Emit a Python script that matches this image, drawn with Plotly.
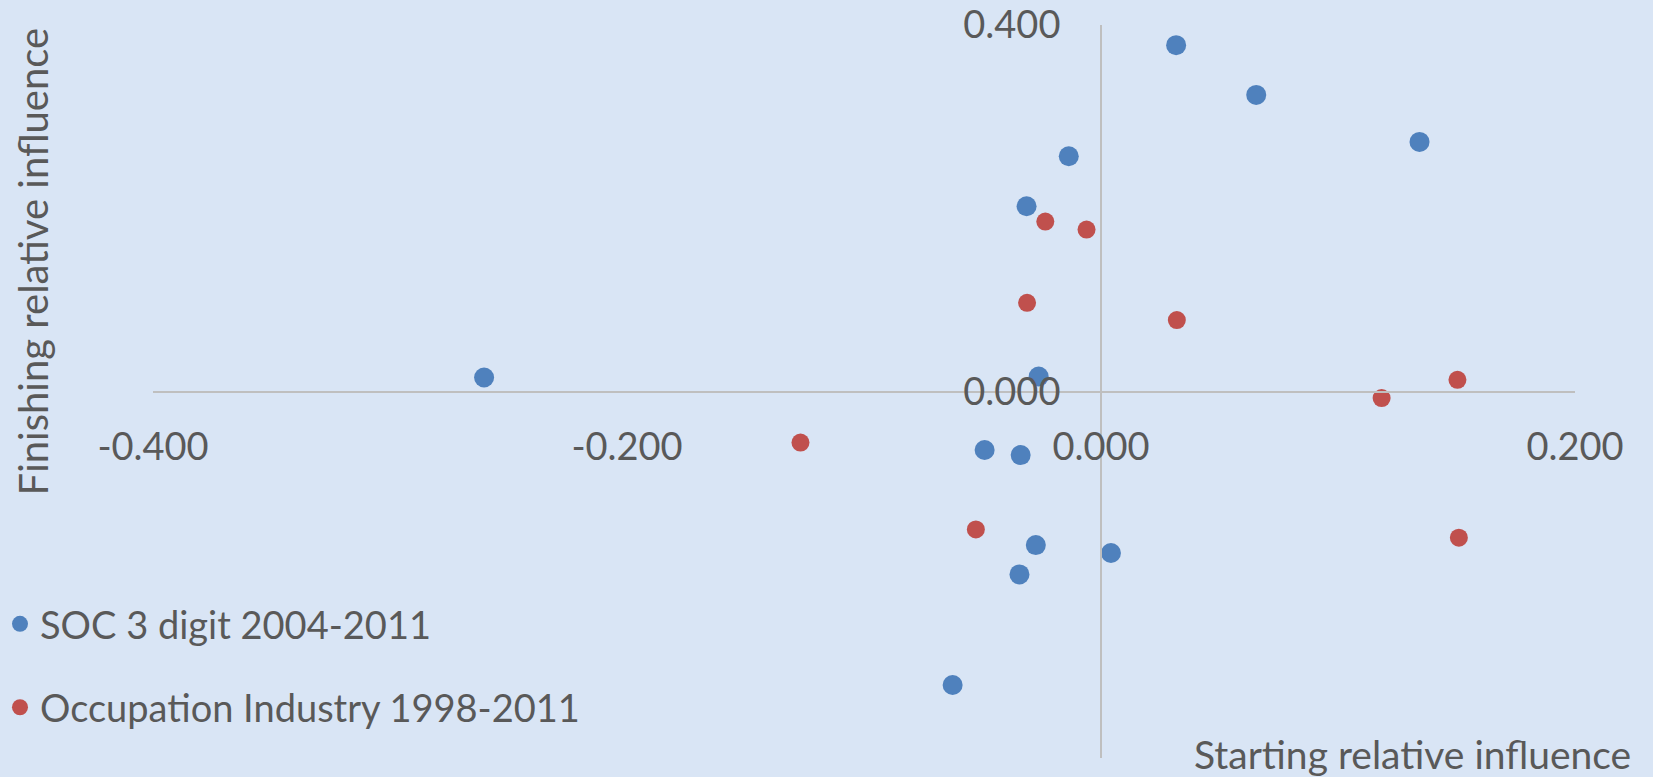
import plotly.graph_objects as go

# Data
soc_x = [0.0317, 0.0655, 0.1344, -0.0136, -0.0314, -0.0263, -0.2603,
         -0.0491, -0.0339, -0.0275, 0.0042, -0.0344, -0.0626]
soc_y = [0.378, 0.3237, 0.2724, 0.2568, 0.2022, 0.0164, 0.0153,
         -0.0639, -0.0694, -0.1676, -0.1763, -0.1996, -0.3203]

occ_x = [-0.0235, -0.0061, -0.0312, 0.0320, 0.1504, 0.1184, 0.1510, -0.0528, -0.1268]
occ_y = [0.1855, 0.1767, 0.0968, 0.0779, 0.0128, -0.0072, -0.1596, -0.1505, -0.0557]

series_names = ["SOC 3 digit 2004-2011", "Occupation Industry 1998-2011"]
x_ticks = [-0.4, -0.2, 0.0, 0.2]
y_ticks = [-0.4, 0.0, 0.4]
x_title = "Starting relative influence"
y_title = "Finishing relative influence"

FONT = "Lato, Carlito, 'Open Sans', sans-serif"
TXT = "#595959"
BG = "#D9E5F5"
AXC = "#BFBFBF"

fig = go.Figure()
fig.add_trace(go.Scatter(x=soc_x, y=soc_y, mode="markers", name=series_names[0],
                         legendgroup="a",
                         marker=dict(color="#4F81BD", size=20, line=dict(width=0))))
fig.add_trace(go.Scatter(x=occ_x, y=occ_y, mode="markers", name=series_names[1],
                         legendgroup="b",
                         marker=dict(color="#C0504D", size=18, line=dict(width=0))))

fig.update_layout(
    width=1653, height=777,
    margin=dict(l=153, r=78, t=25, b=19, autoexpand=False),
    paper_bgcolor=BG, plot_bgcolor=BG,
    font=dict(family=FONT, size=38, color=TXT),
    showlegend=True,
    legend=dict(x=-0.1076, xanchor="left", y=0.126, yanchor="middle",
                bgcolor="rgba(0,0,0,0)", traceorder="grouped", tracegroupgap=31,
                font=dict(family=FONT, size=38, color=TXT)),
    xaxis=dict(range=[-0.4, 0.2], domain=[0, 1], anchor="free", position=0.5,
               showgrid=False, zeroline=False, showline=True, linecolor=AXC, linewidth=2,
               tickvals=x_ticks, ticktext=[f"{v:.3f}" for v in x_ticks],
               ticks="", ticklabelstandoff=22, fixedrange=True, automargin=False),
    yaxis=dict(range=[-0.4, 0.4], domain=[0, 1], anchor="free", position=0.6667,
               showgrid=False, zeroline=False, showline=True, linecolor=AXC, linewidth=2,
               tickvals=y_ticks, ticktext=[f"{v:.3f}" for v in y_ticks],
               ticks="", ticklabelstandoff=32, fixedrange=True, automargin=False),
    annotations=[
        dict(text=x_title, xref="paper", yref="paper", x=1.041, y=0.006,
             xanchor="right", yanchor="middle", showarrow=False,
             font=dict(family=FONT, size=39, color=TXT)),
        dict(text=y_title, xref="paper", yref="paper", x=-0.0844, y=0.6775,
             xanchor="center", yanchor="middle", textangle=-90, showarrow=False,
             font=dict(family=FONT, size=40, color=TXT)),
    ],
)

fig.write_html("out.html", config={"displayModeBar": False},
               post_script="document.body.style.margin='0';document.body.style.overflow='hidden';")
